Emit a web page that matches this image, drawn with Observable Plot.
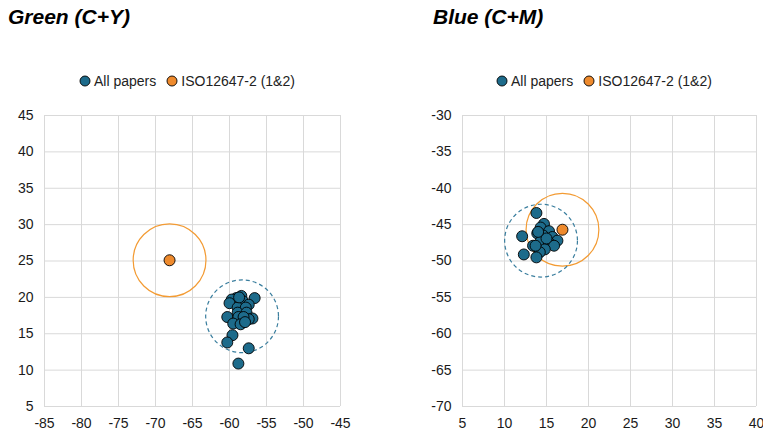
<!DOCTYPE html>
<html>
<head>
<meta charset="utf-8">
<script src="https://cdn.jsdelivr.net/npm/d3@7"></script>
<script src="https://cdn.jsdelivr.net/npm/@observablehq/plot@0.6"></script>
<style>
  html, body { margin: 0; padding: 0; background: #fff; }
  #root { position: relative; width: 763px; height: 437px; font-family: "Liberation Sans", Arial, sans-serif; overflow: hidden; }
  .title { position: absolute; top: 5px; font-family: "Liberation Sans", Arial, sans-serif; font-size: 21px; font-weight: bold; font-style: italic; color: #000; white-space: nowrap; }
  .legend { position: absolute; top: 73px; display: flex; align-items: center; font-size: 14px; color: #222; white-space: nowrap; }
  .legend .item { display: flex; align-items: center; margin-right: 10px; }
  .legend svg { margin-right: 3px; }
  .panel { position: absolute; top: 100px; }
</style>
</head>
<body>
<div id="root"></div>
<script>
// ---- Data ----
const seriesNames = ["All papers", "ISO12647-2 (1&2)"];
const seriesColors = ["#1d6b8b", "#ee8a2d"];
const ringColors = ["#3a7e9e", "#f39b33"];

// Green (C+Y): a*, b*
const greenPapersX = [-58.4, -59.1, -59.7, -56.6, -60.0, -58.2, -57.4, -58.9, -57.8, -60.3, -58.9, -57.7, -56.9, -57.4, -58.8, -58.1, -59.5, -58.5, -59.6, -60.3, -57.4, -58.8, -57.9, -58.7];
const greenPapersY = [20.2, 19.9, 19.7, 19.9, 19.2, 19.5, 19.0, 18.6, 18.6, 17.3, 17.9, 17.9, 17.1, 17.0, 17.3, 17.3, 16.4, 16.3, 14.8, 13.8, 13.0, 10.9, 16.6, 20.0];
const greenIso = [-68.1, 25.1];
const greenMean = [-58.3, 17.4];

// Blue (C+M): a*, b*
const bluePapersX = [13.8, 14.7, 14.3, 15.3, 13.9, 12.1, 14.6, 15.7, 16.3, 14.3, 13.4, 15.3, 15.9, 14.8, 14.2, 12.3, 13.8, 13.7, 15.0, 14.0];
const bluePapersY = [-43.4, -44.9, -45.4, -45.9, -46.2, -46.6, -46.5, -46.7, -47.2, -47.3, -47.9, -47.5, -47.9, -48.4, -48.8, -49.1, -49.5, -47.9, -46.9, -46.0];
const blueIso = [16.9, -45.7];
const blueMean = [14.35, -47.2];

// Axes
const greenXTicks = [-85, -80, -75, -70, -65, -60, -55, -50, -45];
const greenYTicks = [5, 10, 15, 20, 25, 30, 35, 40, 45];
const blueXTicks = [5, 10, 15, 20, 25, 30, 35, 40];
const blueYTicks = [-70, -65, -60, -55, -50, -45, -40, -35, -30];

const titles = ["Green (C+Y)", "Blue (C+M)"];

// ---- Build ----
const root = document.getElementById("root");
const fmt = d => String(d);

function makePanel(cfg) {
  const t = document.createElement("div");
  t.className = "title";
  t.style.left = cfg.titleLeft + "px";
  t.textContent = cfg.title;
  root.appendChild(t);

  const lg = document.createElement("div");
  lg.className = "legend";
  lg.style.left = cfg.legendLeft + "px";
  seriesNames.forEach((name, i) => {
    const it = document.createElement("div");
    it.className = "item";
    it.innerHTML = `<svg width="12" height="12"><circle cx="6" cy="6" r="5" fill="${seriesColors[i]}" stroke="#000" stroke-width="0.9"/></svg><span>${name}</span>`;
    lg.appendChild(it);
  });
  root.appendChild(lg);

  const pts = cfg.px.map((x, i) => ({x, y: cfg.py[i]}));
  const iso = [{x: cfg.iso[0], y: cfg.iso[1]}];
  const mean = [{x: cfg.mean[0], y: cfg.mean[1]}];

  const chart = Plot.plot({
    width: cfg.width,
    height: 337,
    marginLeft: cfg.marginLeft,
    marginRight: cfg.marginRight,
    marginTop: 15,
    marginBottom: 31,
    style: {fontFamily: "'Liberation Sans', Arial, sans-serif", fontSize: "14px", color: "#1a1a1a", background: "transparent", overflow: "visible"},
    x: {domain: [cfg.xTicks[0], cfg.xTicks[cfg.xTicks.length - 1]]},
    y: {domain: [cfg.yTicks[0], cfg.yTicks[cfg.yTicks.length - 1]]},
    marks: [
      Plot.gridX(cfg.xTicks, {stroke: "#d9d9d9", strokeOpacity: 1, strokeWidth: 1}),
      Plot.gridY(cfg.yTicks, {stroke: "#d9d9d9", strokeOpacity: 1, strokeWidth: 1}),
      Plot.axisX(cfg.xTicks, {tickSize: 0, tickPadding: 12, label: null, fontSize: 14, tickFormat: fmt}),
      Plot.axisY(cfg.yTicks, {tickSize: 0, tickPadding: 11, label: null, fontSize: 14, tickFormat: fmt}),
      Plot.dot(iso, {x: "x", y: "y", r: 36.4, fill: "none", stroke: ringColors[1], strokeWidth: 1.2}),
      Plot.dot(mean, {x: "x", y: "y", r: 36.4, fill: "none", stroke: ringColors[0], strokeWidth: 1.2, strokeDasharray: "4,3"}),
      Plot.dot(pts, {x: "x", y: "y", r: 5.5, fill: seriesColors[0], stroke: "#000", strokeWidth: 0.9}),
      Plot.dot(iso, {x: "x", y: "y", r: 5.5, fill: seriesColors[1], stroke: "#000", strokeWidth: 0.9})
    ]
  });
  chart.classList.add("panel");
  chart.style.left = cfg.left + "px";
  root.appendChild(chart);
}

makePanel({
  title: titles[0], titleLeft: 8, legendLeft: 79,
  left: 0, width: 380, marginLeft: 44, marginRight: 40,
  xTicks: greenXTicks, yTicks: greenYTicks,
  px: greenPapersX, py: greenPapersY, iso: greenIso, mean: greenMean
});
makePanel({
  title: titles[1], titleLeft: 433, legendLeft: 496,
  left: 380, width: 383, marginLeft: 82, marginRight: 7,
  xTicks: blueXTicks, yTicks: blueYTicks,
  px: bluePapersX, py: bluePapersY, iso: blueIso, mean: blueMean
});
</script>
</body>
</html>
